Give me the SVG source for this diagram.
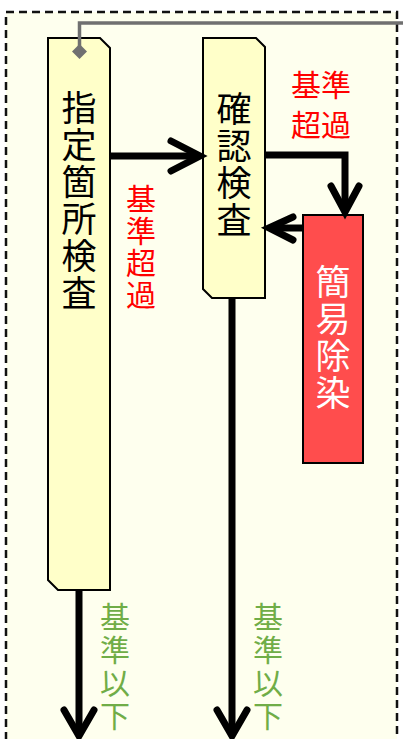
<svg xmlns="http://www.w3.org/2000/svg" width="403" height="739" viewBox="0 0 403 739">
<defs>
<style>
.node{fill:#FFFFC9;stroke:#000;stroke-width:2}
.red{fill:#FF4D4D;stroke:#000;stroke-width:2}
.t{font-family:"Noto Sans CJK JP","Noto Sans CJK SC",sans-serif;text-anchor:middle}
.v{writing-mode:vertical-rl;text-anchor:start}
.nt{font-size:35px;fill:#000;letter-spacing:2px}
.wt{font-size:35px;fill:#fff;letter-spacing:2px}
.rl{font-size:30px;fill:#FF0000}
.gl{font-size:30px;fill:#70AD47;letter-spacing:3px}
.rv{letter-spacing:2px}
.ln{fill:none;stroke:#000;stroke-width:7;stroke-linejoin:miter}
.hd{fill:none;stroke:#000;stroke-width:7;stroke-linecap:round;stroke-linejoin:miter}
</style>
</defs>
<rect x="0" y="0" width="403" height="739" fill="#FFFFFF"/>
<rect x="6" y="12" width="391" height="740" fill="#FEFFEE" stroke="#111" stroke-width="2.5" stroke-dasharray="8,5"/>
<g id="node-shitei">
<path class="node" d="M48,38 H100 L110,48 V590 H58 L48,580 Z"/>
<text class="t v nt" x="79" y="90">指定箇所検査</text>
</g>
<g id="node-kakunin">
<path class="node" d="M203,38 H256 L265,47 V298 H212 L203,289 Z"/>
<text class="t v nt" x="234" y="91">確認検査</text>
</g>
<g id="node-kani">
<rect class="red" x="303" y="215" width="60" height="248"/>
<text class="t v wt" x="333" y="264">簡易除染</text>
</g>
<g id="gray-link">
<path d="M403,23 H79.5 V48" fill="none" stroke="#707070" stroke-width="3.5"/>
<path d="M79.5,44 L87,51.5 L79.5,59 L72,51.5 Z" fill="#707070"/>
</g>
<g id="connectors">
<path class="ln" d="M110,156 H198"/>
<path class="hd" d="M171,141 L200,156 L171,171"/>
<path class="ln" d="M265,155 H345 V208"/>
<path class="hd" d="M331,186 L345,212 L359,186"/>
<path class="ln" d="M303,228 H272"/>
<path class="hd" d="M293,217 L269,228 L293,240"/>
<path class="ln" d="M79,590 V735"/>
<path class="hd" d="M64,710 L79,736 L94,710"/>
<path class="ln" d="M232,298 V735"/>
<path class="hd" d="M217,710 L232,736 L247,710"/>
</g>
<g id="labels">
<text class="t v rl rv" x="141" y="184">基準超過</text>
<text class="t rl" x="321" y="96">基準</text>
<text class="t rl" x="321" y="136">超過</text>
<text class="t v gl" x="115" y="602">基準以下</text>
<text class="t v gl" x="268" y="602">基準以下</text>
</g>
</svg>
